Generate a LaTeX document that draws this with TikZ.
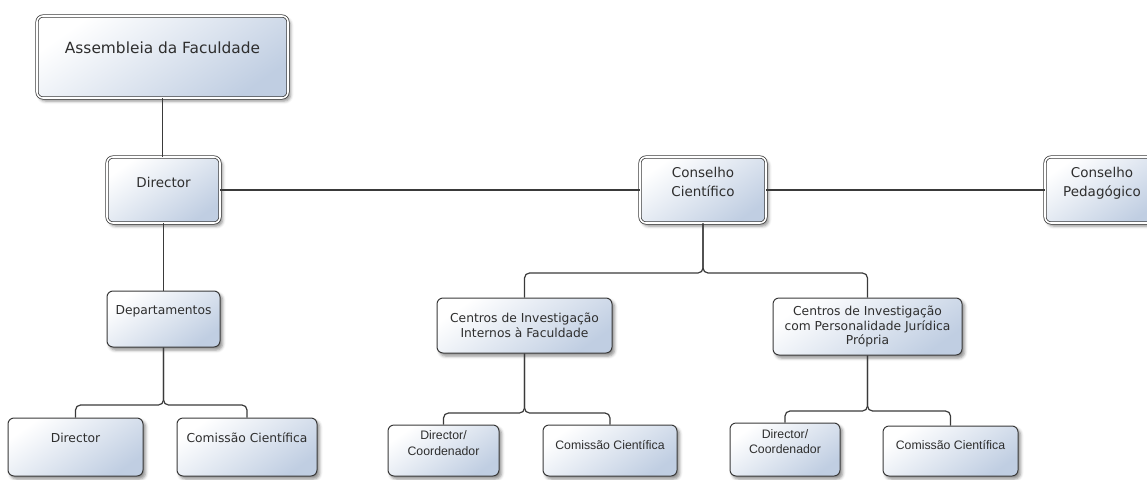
\documentclass[tikz,border=0pt]{standalone}
\usepackage{fontspec}
\setmainfont{DejaVu Sans}
\newfontfamily\arialf{Liberation Sans}
\usetikzlibrary{shadows,shadows.blur}
\definecolor{boxblue}{HTML}{C0CEE2}
\definecolor{edge}{HTML}{3A3A3A}
\definecolor{txt}{HTML}{2E2E2E}
\newcommand\bxt[4]{\parbox[c][#2pt][t]{#1pt}{\centering\vspace*{#3pt}#4\par}}
\newcommand\fs[2]{\fontsize{#1}{#2}\selectfont}
\tikzset{
  box/.style={draw=edge, line width=1pt, rounded corners=6pt, inner sep=0pt, text=txt,
    top color=white, bottom color=boxblue, shading angle=35,
    blur shadow={shadow xshift=2.5pt, shadow yshift=-3pt, shadow blur radius=3pt, shadow opacity=45}},
  dbox/.style={box, line width=0.75pt, double=white, double distance=1.6pt},
  conn/.style={draw=edge, line width=1.2pt, rounded corners=5pt},
}
\begin{document}
\begin{tikzpicture}[x=1pt,y=-1pt]
\useasboundingbox (0,0) rectangle (1147,479);
\clip (0,0) rectangle (1147,479);
\node[dbox] (asm) at (162.5,57) {\bxt{251}{82}{25.8}{\fs{15.4}{19}Assembleia da Faculdade}};
\node[dbox] (dirT) at (163.5,190) {\bxt{113}{66}{20.6}{\fs{13.5}{18}Director}};
\node[dbox] (cc) at (703,190) {\bxt{126}{66}{10.6}{\fs{13.5}{19}Conselho\\Científico}};
\node[dbox] (cp) at (1102,190) {\bxt{114}{66}{10.6}{\fs{13.5}{19}Conselho\\Pedagógico}};
\node[box] (dep) at (163.5,319) {\bxt{113}{56}{15}{\fs{12.3}{15}Departamentos}};
\node[box] (dirB) at (75.5,447) {\bxt{135}{58}{15}{\fs{12.3}{15}Director}};
\node[box] (comB) at (247,447) {\bxt{140}{58}{15}{\fs{12.3}{15}Comissão Científica}};
\node[box] (ci1) at (524.5,325.5) {\bxt{175}{55}{15}{\fs{12.3}{15}Centros de Investigação\\Internos à Faculdade}};
\node[box] (dci1) at (443.5,450.5) {\bxt{111}{51}{6}{\arialf\fs{12.3}{16}Director/\\Coordenador}};
\node[box] (cci1) at (610,450.5) {\bxt{134}{51}{15}{\arialf\fs{12.3}{15}Comissão Científica}};
\node[box] (ci2) at (867.5,326.5) {\bxt{189}{57}{8}{\fs{12.3}{14.5}Centros de Investigação\\com Personalidade Jurídica\\Própria}};
\node[box] (dci2) at (785,449.5) {\bxt{110}{53}{7}{\arialf\fs{12.3}{15}Director/\\Coordenador}};
\node[box] (cci2) at (950.5,451) {\bxt{135}{50}{14}{\arialf\fs{12.3}{15}Comissão Científica}};
\coordinate (jd) at (163.5,405);
\coordinate (jc) at (703,273);
\coordinate (j1) at (524.5,413);
\coordinate (j2) at (867.5,411);
\draw[conn] (asm.south) -- (asm.south |- dirT.north);
\draw[conn] (dirT.east) -- (cc.west);
\draw[conn] (cc.east) -- (cp.west);
\draw[conn] (dirT.south) -- (dep.north);
\draw[conn] (dep.south) -- (jd) -| (dirB.north);
\draw[conn] (dep.south) -- (jd) -| (comB.north);
\draw[conn] (cc.south) -- (jc) -| (ci1.north);
\draw[conn] (cc.south) -- (jc) -| (ci2.north);
\draw[conn] (ci1.south) -- (j1) -| (dci1.north);
\draw[conn] (ci1.south) -- (j1) -| (cci1.north);
\draw[conn] (ci2.south) -- (j2) -| (dci2.north);
\draw[conn] (ci2.south) -- (j2) -| (cci2.north);
\end{tikzpicture}
\end{document}
